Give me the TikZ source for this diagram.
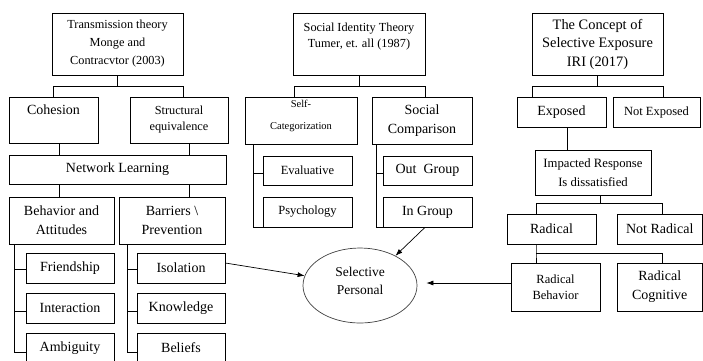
\documentclass[tikz,border=0pt]{standalone}
\usepackage{fontspec}
\setmainfont{Liberation Serif}
\usetikzlibrary{arrows.meta,shapes.geometric}

\begin{document}
\begin{tikzpicture}[x=1pt,y=1pt,
  box/.style={draw, line width=0.7pt, align=center, inner sep=1pt},
  tie/.style={line width=0.7pt},
  pointer/.style={line width=0.7pt, -{Latex[length=7pt,width=5pt]}}]

\useasboundingbox (0,0) rectangle (703,-360) ;
\clip (0,0) rectangle (703,-360) ;

% transmission theory
\node [box, minimum width=131pt, minimum height=62pt, font=\fontsize{12.3}{18}\selectfont] (trans) at (117.5,-44) {Transmission theory\\Monge and\\Contracvtor (2003)} ;
\node [box, minimum width=89pt, minimum height=46pt, text depth=20pt, font=\fontsize{14}{19}\selectfont] (coh) at (53.5,-120) {Cohesion} ;
\node [box, minimum width=98pt, minimum height=46pt, font=\fontsize{12.3}{16}\selectfont] (struc) at (179,-120) {Structural\\equivalence} ;
\node [box, minimum width=217pt, minimum height=29pt, font=\fontsize{14}{19}\selectfont] (net) at (117.5,-169.5) {Network Learning} ;
\node [box, minimum width=105pt, minimum height=47pt, font=\fontsize{14}{19}\selectfont] (beh) at (61.5,-220.5) {Behavior and\\Attitudes} ;
\node [box, minimum width=106pt, minimum height=47pt, font=\fontsize{14}{19}\selectfont] (bar) at (172,-220.5) {Barriers \textbackslash\\Prevention} ;

\node [box, minimum width=88pt, minimum height=30pt, font=\fontsize{14}{19}\selectfont] (fri) at (70,-268) {Friendship} ;
\node [box, minimum width=88pt, minimum height=30pt, font=\fontsize{14}{19}\selectfont] (int) at (70,-308) {Interaction} ;
\node [box, minimum width=88pt, minimum height=30pt, font=\fontsize{14}{19}\selectfont] (amb) at (70,-348) {Ambiguity} ;
\node [box, minimum width=88pt, minimum height=30pt, font=\fontsize{14}{19}\selectfont] (iso) at (181,-268) {Isolation} ;
\node [box, minimum width=88pt, minimum height=30pt, font=\fontsize{14}{19}\selectfont] (kno) at (181,-308) {Knowledge} ;
\node [box, minimum width=88pt, minimum height=30pt, font=\fontsize{14}{19}\selectfont] (bel) at (181,-348) {Beliefs} ;

\draw [tie] (trans.south) -- ++(0,-11) coordinate (tsplit) ;
\draw [tie] (coh.north) |- (tsplit) -| ([xshift=4pt]struc.north) ;
\draw [tie] ([xshift=5.5pt]coh.south) -- ++(0,-12) ;
\draw [tie] ([xshift=10pt]struc.south) -- ++(0,-12) ;
\draw [tie] ([xshift=-2.5pt]beh.north) -- ++(0,13) ;
\draw [tie] ([xshift=17pt]bar.north) -- ++(0,13) ;

\draw [tie] ([xshift=6pt]beh.south west) |- ([yshift=-1pt]fri.west) ;
\draw [tie] ([xshift=6pt]beh.south west) |- ([yshift=-3pt]int.west) ;
\draw [tie] ([xshift=6pt]beh.south west) |- ([yshift=-4pt]amb.west) ;
\draw [tie] ([xshift=9pt]bar.south west) |- ([yshift=-1pt]iso.west) ;
\draw [tie] ([xshift=9pt]bar.south west) |- ([yshift=-3pt]kno.west) ;
\draw [tie] ([xshift=9pt]bar.south west) |- ([yshift=-4pt]bel.west) ;

% social identity theory
\node [box, minimum width=132pt, minimum height=62pt, text depth=17pt, font=\fontsize{12.3}{16}\selectfont] (sit) at (359,-44) {Social Identity Theory\\Tumer, et. all (1987)} ;
\node [box, minimum width=112pt, minimum height=47pt, text depth=11pt, font=\fontsize{10.5}{22}\selectfont] (self) at (301,-120.5) {Self-\\Categorization} ;
\node [box, minimum width=100pt, minimum height=47pt, font=\fontsize{14}{19}\selectfont] (soc) at (422,-120.5) {Social\\Comparison} ;
\node [box, minimum width=89pt, minimum height=29pt, font=\fontsize{12.5}{16}\selectfont] (eva) at (307.5,-170.5) {Evaluative} ;
\node [box, minimum width=89pt, minimum height=30pt, font=\fontsize{12.5}{16}\selectfont] (psy) at (307.5,-212) {Psychology} ;
\node [box, minimum width=89pt, minimum height=29pt, font=\fontsize{14}{19}\selectfont] (out) at (427.5,-170.5) {Out\ \ Group} ;
\node [box, minimum width=89pt, minimum height=30pt, font=\fontsize{14}{19}\selectfont] (ing) at (427.5,-212) {In Group} ;

\draw [tie] (sit.south) -- ++(0,-11) coordinate (ssplit) ;
\draw [tie] ([xshift=-7pt]self.north) |- (ssplit) -| ([xshift=3pt]soc.north) ;
\draw [tie] ([xshift=9pt]self.south west) |- ([yshift=-2.5pt]eva.west) ;
\draw [tie] ([xshift=9pt]self.south west) |- (psy.south west) ;
\draw [tie] ([xshift=5pt]soc.south west) |- ([yshift=-2.5pt]out.west) ;
\draw [tie] ([xshift=5pt]soc.south west) |- (ing.south west) ;

% selective exposure
\node [box, minimum width=131pt, minimum height=62pt, font=\fontsize{14.4}{18.5}\selectfont] (con) at (597.5,-44) {The Concept of\\Selective Exposure\\IRI (2017)} ;
\node [box, minimum width=89pt, minimum height=30pt, font=\fontsize{14}{19}\selectfont] (exp) at (561.5,-112) {Exposed} ;
\node [box, minimum width=87pt, minimum height=30pt, font=\fontsize{12.5}{16}\selectfont] (nex) at (656.5,-112) {Not Exposed} ;
\node [box, minimum width=116pt, minimum height=45pt, font=\fontsize{12.7}{19}\selectfont] (imp) at (593,-172.5) {Impacted Response\\Is dissatisfied} ;
\node [box, minimum width=89pt, minimum height=30pt, font=\fontsize{14}{19}\selectfont] (rad) at (551.5,-229) {Radical} ;
\node [box, minimum width=85.5pt, minimum height=30pt, font=\fontsize{14}{19}\selectfont] (nrad) at (659.75,-229) {Not Radical} ;
\node [box, minimum width=89pt, minimum height=48pt, font=\fontsize{12.5}{16}\selectfont] (rbeh) at (555.5,-287) {Radical\\Behavior} ;
\node [box, minimum width=85.5pt, minimum height=48pt, font=\fontsize{14}{19}\selectfont] (rcog) at (659.75,-287) {Radical\\Cognitive} ;

\draw [tie] (con.south) -- ++(0,-11) coordinate (csplit) ;
\draw [tie] ([xshift=-29.5pt]exp.north) |- (csplit) -| ([xshift=6.5pt]nex.north) ;
\draw [tie] ([xshift=5.5pt]exp.south) -- ++(0,-23) ;
\draw [tie] ([xshift=7pt]imp.south) -- ++(0,-8) coordinate (isplit) ;
\draw [tie] ([xshift=-15.5pt]rad.north) |- (isplit) -| ([xshift=3pt]nrad.north) ;
\draw [tie] ([xshift=-15.5pt]rad.south) -- ++(0,-9) coordinate (rsplit) -- ([xshift=-19.5pt]rbeh.north) ;
\draw [tie] (rsplit) -| ([xshift=3pt]rcog.north) ;

% selective personal
\node [ellipse, draw=black!75, line width=0.7pt, minimum width=114pt, minimum height=75pt, inner sep=1pt, align=center, text depth=9pt, font=\fontsize{13.5}{18.3}\selectfont] (sel) at (360,-285.5) {Selective\\Personal} ;

\draw [pointer] ([yshift=5pt]iso.east) -- (sel.170) ;
\draw [pointer] ([xshift=-2.5pt]ing.south) -- (sel.40) ;
\draw [pointer, shorten >=9pt] ([yshift=4pt]rbeh.west) -- ([yshift=2.5pt]sel.east) ;

\end{tikzpicture}
\end{document}
